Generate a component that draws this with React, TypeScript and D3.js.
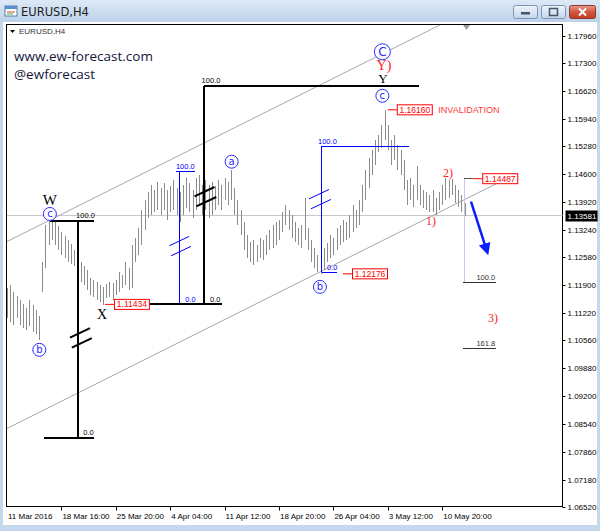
import React from "react";
import * as d3 from "d3";

// H4 bars (high / low)
const highs = [
  1.1184, 1.1191, 1.1174, 1.1164, 1.1155, 1.1145, 1.1135, 1.1155, 1.1142, 1.113,
  1.1116, 1.1247, 1.1336, 1.1351, 1.1349, 1.1344, 1.1334, 1.1319, 1.131, 1.13,
  1.129, 1.1276, 1.1264, 1.1247, 1.1237, 1.1227, 1.1208, 1.1203, 1.1198, 1.1191,
  1.1186, 1.1193, 1.1198, 1.1196, 1.1203, 1.1222, 1.1215, 1.1247, 1.1232, 1.1288,
  1.1305, 1.1329, 1.1373, 1.1397, 1.1416, 1.1434, 1.1421, 1.1441, 1.1426, 1.1438,
  1.1421, 1.1431, 1.1446, 1.1426, 1.1416, 1.1434, 1.1451, 1.1438, 1.1421, 1.1451,
  1.1458, 1.1434, 1.1446, 1.1434, 1.1441, 1.1431, 1.1446, 1.1434, 1.1451, 1.1441,
  1.147, 1.1426, 1.1397, 1.1373, 1.1344, 1.1312, 1.1295, 1.13, 1.1288, 1.1305,
  1.13, 1.1312, 1.1324, 1.1336, 1.1344, 1.1349, 1.1368, 1.1385, 1.1373, 1.1361,
  1.1344, 1.1329, 1.1336, 1.1402, 1.1329, 1.13, 1.1281, 1.1264, 1.1256, 1.1281,
  1.1293, 1.1312, 1.1305, 1.1329, 1.1336, 1.1349, 1.1344, 1.1361, 1.1385, 1.1373,
  1.1397, 1.1434, 1.147, 1.1499, 1.1518, 1.1543, 1.1555, 1.1579, 1.1616, 1.1579,
  1.1543, 1.1555, 1.1531, 1.1518, 1.1494, 1.1446, 1.1451, 1.1434, 1.148, 1.1434,
  1.1421, 1.1416, 1.1409, 1.1421, 1.1402, 1.1416, 1.1434, 1.1451, 1.1446, 1.1449,
  1.1434, 1.1421, 1.1409, 1.139,
];
const lows = [
  1.1111, 1.1101, 1.1094, 1.1111, 1.1094, 1.1087, 1.1082, 1.1092, 1.1077, 1.1072,
  1.1058, 1.1174, 1.1232, 1.1288, 1.13, 1.1288, 1.1276, 1.1264, 1.1256, 1.1247,
  1.1242, 1.1237, 1.1215, 1.1198, 1.1191, 1.1179, 1.1167, 1.1162, 1.1155, 1.115,
  1.1143, 1.116, 1.1162, 1.1155, 1.1167, 1.1174, 1.1184, 1.1191, 1.1179, 1.1184,
  1.1247, 1.1264, 1.1288, 1.1324, 1.1354, 1.1361, 1.1368, 1.1373, 1.1361, 1.1373,
  1.1349, 1.1368, 1.1373, 1.1361, 1.1344, 1.1361, 1.1378, 1.1368, 1.1354, 1.1373,
  1.1385, 1.1361, 1.1373, 1.1354, 1.1361, 1.1373, 1.1385, 1.1373, 1.1397, 1.1385,
  1.1397, 1.1361, 1.1336, 1.1312, 1.1276, 1.1256, 1.1247, 1.1239, 1.1247, 1.1256,
  1.1252, 1.1264, 1.1276, 1.1281, 1.1288, 1.13, 1.1319, 1.1336, 1.1324, 1.1305,
  1.1295, 1.1288, 1.1281, 1.13, 1.1276, 1.1247, 1.1232, 1.1222, 1.1218, 1.1227,
  1.1247, 1.1256, 1.1264, 1.1276, 1.1288, 1.1295, 1.13, 1.1305, 1.1319, 1.1329,
  1.1336, 1.1368, 1.1397, 1.1426, 1.1458, 1.1482, 1.1514, 1.1523, 1.1543, 1.1518,
  1.1482, 1.1494, 1.147, 1.1458, 1.1421, 1.1385, 1.1397, 1.138, 1.1397, 1.1385,
  1.1378, 1.1373, 1.1368, 1.1368, 1.1361, 1.1373, 1.1385, 1.1397, 1.1402, 1.1409,
  1.139, 1.138, 1.1368, 1.1358,
];

const priceTicks = [
  "1.17960", "1.17300", "1.16620", "1.15940", "1.15280", "1.14600", "1.13920",
  "1.13240", "1.12580", "1.11900", "1.11220", "1.10560", "1.09880", "1.09200",
  "1.08540", "1.07860", "1.07180", "1.06520",
];
const dateLabels = [
  "11 Mar 2016", "18 Mar 16:00", "25 Mar 20:00", "4 Apr 04:00", "11 Apr 12:00",
  "18 Apr 20:00", "26 Apr 04:00", "3 May 12:00", "10 May 20:00",
];
const dateBars = [0, 17, 34, 51, 68, 85, 102, 119, 136];
const currentPrice = 1.13581;

// channel lines [bar, price] pairs
const channels = [
  [[0, 1.1296], [135.3, 1.1822]],
  [[0, 1.0842], [155.6, 1.1447]],
];

// fibonacci tool segments: bar from/to, price from/to
const fibSegs = [
  { b1: 22.2, b2: 22.2, p1: 1.1347, p2: 1.082, c: "#000", w: 2 },
  { b1: 13.4, b2: 27.3, p1: 1.1347, p2: 1.1347, c: "#000", w: 2 },
  { b1: 11.7, b2: 27.3, p1: 1.082, p2: 1.082, c: "#000", w: 2 },
  { b1: 53.8, b2: 53.8, p1: 1.1466, p2: 1.11434, c: "#0000ff", w: 1 },
  { b1: 52.8, b2: 58.8, p1: 1.1466, p2: 1.1466, c: "#0000ff", w: 1 },
  { b1: 98.3, b2: 98.3, p1: 1.1528, p2: 1.1222, c: "#0000ff", w: 1 },
  { b1: 98.3, b2: 125.7, p1: 1.1528, p2: 1.1528, c: "#0000ff", w: 1 },
  { b1: 98.3, b2: 103, p1: 1.1222, p2: 1.1222, c: "#0000ff", w: 1 },
  { b1: 61.7, b2: 61.7, p1: 1.1674, p2: 1.11434, c: "#000", w: 2 },
  { b1: 61.7, b2: 128.8, p1: 1.1674, p2: 1.1674, c: "#000", w: 2 },
  { b1: 44.7, b2: 67.1, p1: 1.11434, p2: 1.11434, c: "#000", w: 2 },
  { b1: 142.9, b2: 142.9, p1: 1.14487, p2: 1.1196, c: "#c8c8ee", w: 1 },
  { b1: 142.8, b2: 145.7, p1: 1.14487, p2: 1.14487, c: "#555", w: 1 },
  { b1: 142.6, b2: 152.8, p1: 1.1196, p2: 1.1196, c: "#333", w: 1 },
  { b1: 142.6, b2: 152.8, p1: 1.1036, p2: 1.1036, c: "#333", w: 1 },
];
const fibTexts = [
  { b: 21.6, p: 1.1347, t: "100.0", c: "#000" },
  { b: 23.8, p: 1.082, t: "0.0", c: "#000" },
  { b: 60.8, p: 1.1674, t: "100.0", c: "#000" },
  { b: 63.4, p: 1.11434, t: "0.0", c: "#000" },
  { b: 52.8, p: 1.1466, t: "100.0", c: "#0000ff" },
  { b: 55.7, p: 1.11434, t: "0.0", c: "#0000ff" },
  { b: 97.2, p: 1.1528, t: "100.0", c: "#0000ff" },
  { b: 100, p: 1.1222, t: "0.0", c: "#0000ff" },
  { b: 146.7, p: 1.1196, t: "100.0", c: "#333" },
  { b: 146.7, p: 1.1036, t: "161.8", c: "#333" },
];
// equal-leg marks
const slashes = [
  { b: 23.1, p: 1.1062, c: "#000", w: 2 },
  { b: 62, p: 1.1405, c: "#000", w: 2 },
  { b: 54.1, p: 1.1285, c: "#0000ff", w: 1 },
  { b: 97.8, p: 1.1399, c: "#0000ff", w: 1 },
];

const priceTags = [
  { b: 30.6, p: 1.11434 },
  { b: 119, p: 1.1616 },
  { b: 145.7, p: 1.14487 },
  { b: 105, p: 1.12176 },
];

const circled = [
  { b: 10.1, p: 1.1033, t: "b", r: 6.5 },
  { b: 13.4, p: 1.1363, t: "c", r: 6.5 },
  { b: 70.2, p: 1.149, t: "a", r: 6.5 },
  { b: 97.8, p: 1.1186, t: "b", r: 6.5 },
  { b: 117.3, p: 1.165, t: "c", r: 6.5 },
  { b: 117.3, p: 1.1757, t: "C", r: 8 },
];
const waveText = [
  { b: 13.4, p: 1.1397, t: "W", c: "#000", s: 15 },
  { b: 29.7, p: 1.112, t: "X", c: "#000", s: 14 },
  { b: 117.5, p: 1.1691, t: "Y", c: "#000", s: 13 },
  { b: 117.8, p: 1.1724, t: "Y)", c: "#ff1a1a", s: 14 },
  { b: 132.5, p: 1.1346, t: "1)", c: "#ff1a1a", s: 12 },
  { b: 137.8, p: 1.1462, t: "2)", c: "#ff1a1a", s: 12 },
  { b: 151.9, p: 1.111, t: "3)", c: "#ff1a1a", s: 12 },
];
const arrow = [[145, 1.1393], [150.4, 1.1263]];

const L = 6.5, T = 24.5, R = 562.5, B = 506.5;

export default function App() {
  const x = d3.scaleLinear().domain([0, 136]).range([7, 442.2]);
  const y = d3.scaleLinear().domain([1.0652, 1.1796]).range([506.7, 35.7]);
  const axisFont = "'Liberation Sans', Arial, sans-serif";
  const serif = "'Liberation Serif', 'Times New Roman', serif";
  const blue = "#2a2aff";

  const ax1 = x(arrow[0][0]), ay1 = y(arrow[0][1]);
  const ax2 = x(arrow[1][0]), ay2 = y(arrow[1][1]);
  const ang = Math.atan2(ay2 - ay1, ax2 - ax1);
  const head = (dx: number, dy: number) => {
    const c = Math.cos(ang), s = Math.sin(ang);
    return [ax2 + dx * c - dy * s, ay2 + dx * s + dy * c];
  };
  const hp = [head(0, 0), head(-12, -6), head(-12, 6)];

  return (
    <svg
      width={600}
      height={531}
      style={{ position: "absolute", left: 0, top: 0 }}
      fontFamily={axisFont}
    >
      <defs>
        <linearGradient id="tb" x1="0" y1="0" x2="0" y2="1">
          <stop offset="0" stopColor="#dde9f6" />
          <stop offset="1" stopColor="#bcd2ea" />
        </linearGradient>
        <linearGradient id="btn" x1="0" y1="0" x2="0" y2="1">
          <stop offset="0" stopColor="#eef4fb" />
          <stop offset="1" stopColor="#c3d5ea" />
        </linearGradient>
        <linearGradient id="cls" x1="0" y1="0" x2="0" y2="1">
          <stop offset="0" stopColor="#e99a8a" />
          <stop offset="0.5" stopColor="#d4553d" />
          <stop offset="1" stopColor="#c23b22" />
        </linearGradient>
        <clipPath id="plot">
          <rect x={L} y={T} width={R - L} height={B - T} />
        </clipPath>
      </defs>

      {/* window chrome */}
      <rect x={0} y={0} width={600} height={531} fill="#c3d7ed" />
      <rect x={0} y={0} width={600} height={22} fill="url(#tb)" />
      <rect x={5} y={6} width={12} height={10} fill="#fff" stroke="#5a7fa8" />
      <rect x={5} y={6} width={12} height={3} fill="#5a8fd0" />
      <line x1={7} x2={15} y1={12} y2={12} stroke="#d44" />
      <line x1={7} x2={13} y1={14} y2={14} stroke="#4a4" />
      <text x={21} y={15.5} fontSize={11.5} fontFamily="'DejaVu Sans', sans-serif" fill="#1e1e1e">
        EURUSD,H4
      </text>
      <rect x={513.5} y={5.5} width={24} height={13} rx={2} fill="url(#btn)" stroke="#7c95b5" />
      <rect x={521} y={12} width={9} height={2.5} fill="#44566e" />
      <rect x={541.5} y={5.5} width={24} height={13} rx={2} fill="url(#btn)" stroke="#7c95b5" />
      <rect x={549.5} y={8.5} width={8} height={7} fill="none" stroke="#44566e" strokeWidth={1.5} />
      <rect x={569.5} y={5.5} width={26} height={13} rx={2} fill="url(#cls)" stroke="#8a3a2c" />
      <path d="M579,8.5 L586,15.5 M586,8.5 L579,15.5" stroke="#fff" strokeWidth={2} />

      <rect x={3} y={22} width={594} height={503} fill="#fff" />
      <rect x={L} y={T} width={R - L} height={B - T} fill="#fff" stroke="#000" shapeRendering="crispEdges" />

      <g clipPath="url(#plot)">
        {/* current price line */}
        <line x1={L} x2={R} y1={y(currentPrice)} y2={y(currentPrice)} stroke="#c8c8c8" shapeRendering="crispEdges" />
        {/* channel */}
        {channels.map((c, i) => (
          <line
            key={i}
            x1={x(c[0][0])}
            y1={y(c[0][1])}
            x2={x(c[1][0])}
            y2={y(c[1][1])}
            stroke="#a8a8a8"
            strokeWidth={1}
          />
        ))}
        {/* bars */}
        {highs.map((h, i) => (
          <line
            key={i}
            x1={Math.round(x(i)) + 0.5}
            x2={Math.round(x(i)) + 0.5}
            y1={y(h)}
            y2={y(lows[i])}
            stroke="#8c8c8c"
            shapeRendering="crispEdges"
          />
        ))}
        {/* fib tools */}
        {fibSegs.map((s, i) => (
          <line
            key={i}
            x1={x(s.b1)}
            x2={x(s.b2)}
            y1={y(s.p1)}
            y2={y(s.p2)}
            stroke={s.c}
            strokeWidth={s.w}
            shapeRendering="crispEdges"
          />
        ))}
        {fibTexts.map((f, i) => (
          <text key={i} x={x(f.b)} y={y(f.p) - 2.5} fontSize={7.5} fill={f.c}>
            {f.t}
          </text>
        ))}
        {slashes.map((s, i) =>
          [-1, 1].map((k) => {
            const cx = x(s.b) + k * 0.9;
            const cy = y(s.p) + k * 5;
            return (
              <line
                key={i + "_" + k}
                x1={cx - 10}
                y1={cy + 4.7}
                x2={cx + 10}
                y2={cy - 4.7}
                stroke={s.c}
                strokeWidth={s.w}
              />
            );
          })
        )}
        {/* price tags */}
        {priceTags.map((t, i) => {
          const x0 = x(t.b), yy = y(t.p);
          return (
            <g key={i}>
              <line x1={x0} x2={x0 + 9} y1={yy} y2={yy} stroke="#ff0000" />
              <rect x={x0 + 9.5} y={yy - 5} width={35} height={10} fill="#fff" stroke="#ff0000" />
              <text x={x0 + 27} y={yy + 3} fontSize={8.5} fill="#ff0000" textAnchor="middle">
                {t.p.toFixed(5)}
              </text>
            </g>
          );
        })}
        <text x={x(134.8)} y={y(1.1616) + 3.5} fontSize={9} fill="#ff3a3a">
          INVALIDATION
        </text>
        {/* wave labels */}
        {circled.map((c, i) => (
          <g key={i}>
            <circle cx={x(c.b)} cy={y(c.p)} r={c.r} fill="#fff" stroke={blue} strokeWidth={1} />
            <text
              x={x(c.b)}
              y={y(c.p)}
              dy="0.35em"
              fontSize={c.r > 7 ? 12 : 10}
              fill={blue}
              textAnchor="middle"
              fontFamily="'DejaVu Sans', sans-serif"
            >
              {c.t}
            </text>
          </g>
        ))}
        {waveText.map((w, i) => (
          <text
            key={i}
            x={x(w.b)}
            y={y(w.p)}
            dy="0.35em"
            fontSize={w.s}
            fill={w.c}
            textAnchor="middle"
            fontFamily={serif}
          >
            {w.t}
          </text>
        ))}
        {/* arrow */}
        <line x1={ax1} y1={ay1} x2={head(-8, 0)[0]} y2={head(-8, 0)[1]} stroke="#0a1eff" strokeWidth={2.5} />
        <polygon points={hp.map((p) => p.join(",")).join(" ")} fill="#0a1eff" />
      </g>

      {/* inner title */}
      <path d="M10,30 L15,30 L12.5,33 Z" fill="#000" />
      <text x={19} y={34} fontSize={8} fill="#333">
        EURUSD,H4
      </text>
      <path d="M463,25 L470,25 L466.5,30 Z" fill="#9a9a9a" />

      <text x={14} y={61} fontSize={13.5} fill="#16163a" fontFamily="'Open Sans', sans-serif">
        www.ew-forecast.com
      </text>
      <text x={14} y={79} fontSize={13.5} fill="#16163a" fontFamily="'Open Sans', sans-serif">
        @ewforecast
      </text>

      {/* price axis */}
      {priceTicks.map((t) => (
        <g key={t}>
          <line x1={R} x2={R + 3} y1={Math.round(y(+t)) + 0.5} y2={Math.round(y(+t)) + 0.5} stroke="#000" />
          <text x={R + 5} y={y(+t) + 3} fontSize={8} fill="#000">
            {t}
          </text>
        </g>
      ))}
      <rect x={R + 3} y={y(currentPrice) - 5.5} width={32} height={11} fill="#000" />
      <text x={R + 5} y={y(currentPrice) + 3} fontSize={8} fill="#fff">
        {currentPrice.toFixed(5)}
      </text>

      {/* time axis */}
      {dateLabels.map((d, i) => (
        <g key={d}>
          {i > 0 && (
            <line
              x1={Math.round(x(dateBars[i])) + 0.5}
              x2={Math.round(x(dateBars[i])) + 0.5}
              y1={B}
              y2={B + 4}
              stroke="#000"
            />
          )}
          <text x={x(dateBars[i]) + 1} y={519} fontSize={8} fill="#000">
            {d}
          </text>
        </g>
      ))}
    </svg>
  );
}
